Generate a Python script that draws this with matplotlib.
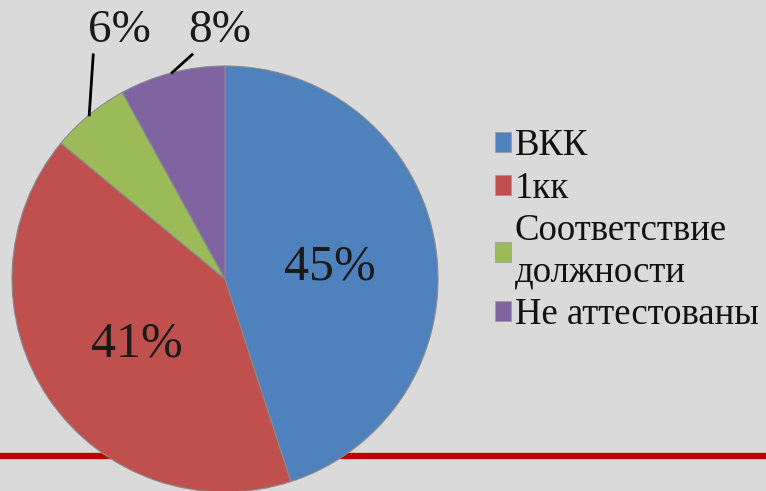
import numpy as np
import matplotlib.pyplot as plt
from matplotlib.patches import Patch

FONT = "Liberation Serif"

# data
categories = ["ВКК", "1кк", "Соответствие\nдолжности", "Не аттестованы"]
shares = [45, 41, 6, 8]
colors = ["#4F81BD", "#C0504D", "#9BBB59", "#8064A2"]

W, H = 766, 491
fig = plt.figure(figsize=(W / 100, H / 100), dpi=100)
fig.patch.set_facecolor("#dadada")
ax = fig.add_axes([0, 0, 1, 1])
ax.set_aspect("equal")

cx, cy, R = 225, H - 279, 213

# red rule behind the pie
ax.axhline(H - 455.5, color="#C00000", lw=4.5, zorder=1)

wedges, _ = ax.pie(shares, colors=colors, startangle=90, counterclock=False,
                   center=(cx, cy), radius=R, frame=True,
                   wedgeprops=dict(edgecolor="#8a8a8a", linewidth=0.8, zorder=2))
ax.set_xlim(0, W)
ax.set_ylim(0, H)
ax.axis("off")

# labels
for i, w in enumerate(wedges):
    mid = np.deg2rad((w.theta1 + w.theta2) / 2)
    txt = f"{shares[i]}%"
    if shares[i] > 20:
        ax.text(cx + 0.5 * R * np.cos(mid), cy + 0.5 * R * np.sin(mid) - 5, txt,
                ha="center", va="center", fontsize=36, color="#1a1a1a",
                family=FONT, zorder=3)
    else:
        ex, ey = cx + R * np.cos(mid), cy + R * np.sin(mid)
        # leader line out to the label
        if i == 2:
            lx, ly, tx, ty = ex + 4, ey + 60, ex + 30, ey + 84
        else:
            lx, ly, tx, ty = ex + 20, ey + 18, ex + 48, ey + 42
        ax.plot([ex, lx], [ey, ly], color="black", lw=2, zorder=3)
        ax.text(tx, ty, txt, ha="center", va="center", fontsize=34,
                color="#1a1a1a", family=FONT, zorder=3)

handles = [Patch(facecolor=c, edgecolor="#9a9a9a", lw=0.5) for c in colors]
leg = fig.legend(handles, categories, loc="upper left",
                 bbox_to_anchor=(480 / W, 1 - 114 / H), frameon=False,
                 prop=dict(family=FONT, size=26.5), handlelength=0.45,
                 handleheight=0.45, handletextpad=0.1, labelspacing=0.22,
                 borderaxespad=0)
for t in leg.get_texts():
    t.set_linespacing(1.24)
    t.set_color("#111111")

fig.savefig("out.png", dpi=100, facecolor=fig.get_facecolor())
